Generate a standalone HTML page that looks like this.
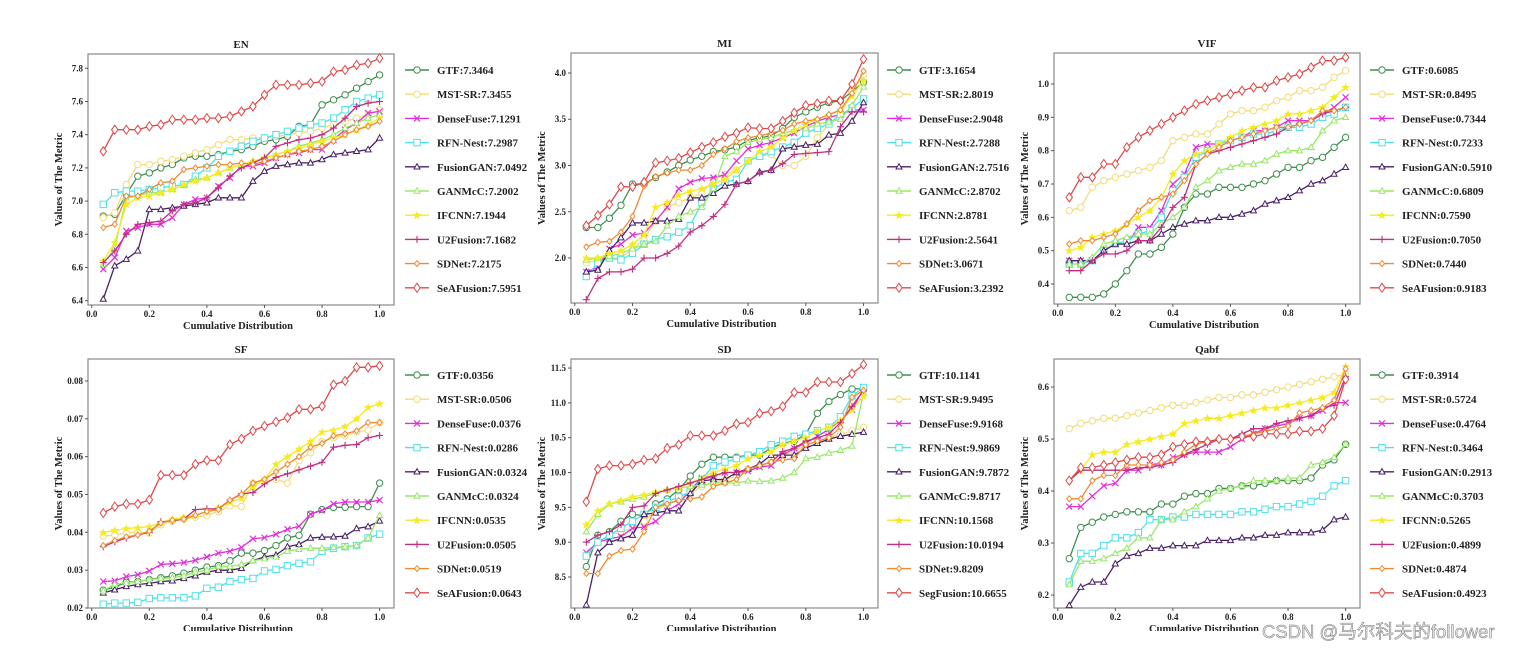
<!DOCTYPE html>
<html><head><meta charset="utf-8"><style>
html,body{margin:0;padding:0;background:#fff;width:1519px;height:649px;overflow:hidden}
svg{display:block}
text{font-family:"Liberation Serif",serif;font-weight:bold;fill:#222}
</style></head><body>
<svg id="fig" width="1519" height="649" viewBox="0 0 1519 649" xmlns="http://www.w3.org/2000/svg"></svg>
<script>
const xValues=[0.04,0.08,0.12,0.16,0.2,0.24,0.28,0.32,0.36,0.4,0.44,0.48,0.52,0.56,0.6,0.64,0.68,0.72,0.76,0.8,0.84,0.88,0.92,0.96,1.0];
const xTicks=[0,0.2,0.4,0.6,0.8,1.0];
const methods=["GTF","MST-SR","DenseFuse","RFN-Nest","FusionGAN","GANMcC","IFCNN","U2Fusion","SDNet","SeAFusion"];
const panelTitles=["EN","MI","VIF","SF","SD","Qabf"];

const enTicks=[6.4,6.6,6.8,7.0,7.2,7.4,7.6,7.8];
const enLegend=["GTF:7.3464","MST-SR:7.3455","DenseFuse:7.1291","RFN-Nest:7.2987","FusionGAN:7.0492","GANMcC:7.2002","IFCNN:7.1944","U2Fusion:7.1682","SDNet:7.2175","SeAFusion:7.5951"];
const enGTF=[6.91,6.92,7.04,7.15,7.17,7.20,7.22,7.26,7.27,7.27,7.28,7.30,7.31,7.33,7.36,7.37,7.39,7.45,7.46,7.58,7.61,7.64,7.68,7.72,7.76];
const enMST=[6.90,6.93,7.10,7.22,7.22,7.24,7.25,7.27,7.29,7.31,7.34,7.37,7.37,7.38,7.38,7.39,7.40,7.41,7.42,7.44,7.46,7.48,7.50,7.52,7.55];
const enDense=[6.59,6.66,6.82,6.84,6.86,6.86,6.90,6.98,7.01,7.02,7.09,7.14,7.21,7.21,7.23,7.26,7.28,7.29,7.31,7.31,7.37,7.43,7.47,7.53,7.54];
const enRFN=[6.98,7.05,7.06,7.06,7.07,7.08,7.09,7.10,7.15,7.20,7.27,7.30,7.33,7.36,7.38,7.40,7.42,7.44,7.46,7.47,7.50,7.55,7.60,7.62,7.64];
const enFGAN=[6.41,6.61,6.65,6.70,6.95,6.95,6.96,6.97,6.98,6.99,7.02,7.02,7.02,7.12,7.18,7.21,7.22,7.23,7.23,7.25,7.28,7.29,7.30,7.31,7.38];
const enGANMcC=[6.62,6.72,7.02,7.03,7.05,7.05,7.07,7.10,7.13,7.14,7.17,7.20,7.22,7.24,7.26,7.28,7.30,7.33,7.35,7.37,7.40,7.44,7.47,7.50,7.52];
const enIFCNN=[6.64,6.75,6.98,7.02,7.03,7.05,7.07,7.10,7.12,7.14,7.17,7.20,7.22,7.24,7.26,7.28,7.30,7.32,7.34,7.36,7.38,7.40,7.43,7.46,7.50];
const enU2=[6.63,6.70,6.80,6.86,6.87,6.88,6.94,6.98,6.99,7.02,7.08,7.15,7.20,7.23,7.26,7.33,7.35,7.37,7.38,7.40,7.44,7.50,7.57,7.59,7.60];
const enSD=[6.84,6.86,7.03,7.03,7.07,7.11,7.12,7.19,7.20,7.21,7.22,7.22,7.23,7.22,7.24,7.26,7.28,7.30,7.31,7.33,7.36,7.40,7.43,7.45,7.48];
const enSeA=[7.30,7.43,7.43,7.43,7.45,7.46,7.49,7.49,7.49,7.50,7.50,7.51,7.54,7.57,7.64,7.70,7.70,7.70,7.71,7.72,7.78,7.79,7.82,7.83,7.86];

const miTicks=[2.0,2.5,3.0,3.5,4.0];
const miLegend=["GTF:3.1654","MST-SR:2.8019","DenseFuse:2.9048","RFN-Nest:2.7288","FusionGAN:2.7516","GANMcC:2.8702","IFCNN:2.8781","U2Fusion:2.5641","SDNet:3.0671","SeAFusion:3.2392"];
const miGTF=[2.33,2.33,2.43,2.57,2.80,2.80,2.87,2.93,3.00,3.06,3.10,3.15,3.17,3.20,3.27,3.30,3.32,3.40,3.52,3.58,3.63,3.68,3.70,3.80,3.90];
const miMST=[1.95,1.98,2.00,2.00,2.10,2.20,2.40,2.55,2.60,2.65,2.70,2.85,2.90,2.95,3.05,3.10,3.12,3.00,3.00,3.10,3.30,3.45,3.55,3.80,3.98];
const miDense=[1.85,1.90,2.10,2.15,2.25,2.27,2.40,2.55,2.75,2.82,2.86,2.87,2.90,3.05,3.18,3.22,3.25,3.30,3.35,3.42,3.48,3.52,3.55,3.60,3.60];
const miRFN=[1.80,1.95,2.00,1.98,2.05,2.15,2.20,2.23,2.28,2.35,2.60,2.75,2.82,2.85,3.05,3.10,3.15,3.20,3.25,3.35,3.40,3.45,3.55,3.62,3.72];
const miFGAN=[1.85,1.87,2.08,2.22,2.38,2.38,2.40,2.40,2.42,2.65,2.65,2.70,2.78,2.80,2.83,2.93,2.95,3.18,3.20,3.22,3.23,3.33,3.35,3.48,3.68];
const miGANMcC=[1.98,2.00,2.02,2.05,2.10,2.15,2.18,2.35,2.45,2.50,2.55,2.75,3.10,3.15,3.25,3.28,3.30,3.35,3.38,3.40,3.45,3.47,3.50,3.65,3.85];
const miIFCNN=[2.00,2.00,2.05,2.08,2.15,2.25,2.55,2.60,2.68,2.72,2.75,2.80,2.85,2.95,3.05,3.15,3.20,3.30,3.38,3.45,3.50,3.55,3.60,3.75,3.92];
const miU2=[1.55,1.78,1.85,1.85,1.88,2.00,2.00,2.05,2.13,2.28,2.35,2.45,2.58,2.80,2.83,2.92,2.95,3.02,3.12,3.13,3.14,3.15,3.42,3.58,3.58];
const miSD=[2.12,2.17,2.18,2.28,2.45,2.78,2.88,2.92,2.95,2.95,3.00,3.12,3.18,3.26,3.30,3.32,3.35,3.38,3.45,3.48,3.50,3.55,3.60,3.78,4.02];
const miSeA=[2.35,2.46,2.58,2.77,2.77,2.82,3.03,3.05,3.08,3.14,3.20,3.25,3.31,3.35,3.41,3.40,3.40,3.48,3.57,3.65,3.67,3.70,3.70,3.88,4.15];

const vifTicks=[0.4,0.5,0.6,0.7,0.8,0.9,1.0];
const vifLegend=["GTF:0.6085","MST-SR:0.8495","DenseFuse:0.7344","RFN-Nest:0.7233","FusionGAN:0.5910","GANMcC:0.6809","IFCNN:0.7590","U2Fusion:0.7050","SDNet:0.7440","SeAFusion:0.9183"];
const vifGTF=[0.36,0.36,0.36,0.37,0.40,0.44,0.49,0.49,0.51,0.55,0.63,0.67,0.67,0.69,0.69,0.69,0.70,0.71,0.73,0.75,0.75,0.77,0.78,0.81,0.84];
const vifMST=[0.62,0.63,0.69,0.71,0.72,0.73,0.74,0.75,0.77,0.83,0.84,0.85,0.85,0.88,0.91,0.92,0.92,0.93,0.95,0.96,0.98,0.98,0.99,1.02,1.04];
const vifDense=[0.47,0.47,0.47,0.50,0.52,0.52,0.57,0.57,0.62,0.70,0.73,0.81,0.82,0.82,0.83,0.84,0.86,0.86,0.87,0.89,0.89,0.89,0.91,0.93,0.96];
const vifRFN=[0.46,0.46,0.47,0.50,0.52,0.53,0.55,0.56,0.60,0.68,0.72,0.78,0.80,0.82,0.83,0.84,0.85,0.85,0.86,0.87,0.87,0.88,0.90,0.91,0.93];
const vifFGAN=[0.47,0.47,0.47,0.50,0.52,0.52,0.53,0.53,0.55,0.57,0.58,0.59,0.59,0.60,0.60,0.61,0.62,0.64,0.65,0.66,0.68,0.70,0.71,0.73,0.75];
const vifGANMcC=[0.46,0.46,0.48,0.52,0.53,0.54,0.55,0.55,0.58,0.60,0.63,0.69,0.71,0.74,0.75,0.76,0.76,0.77,0.79,0.80,0.80,0.81,0.86,0.89,0.90];
const vifIFCNN=[0.50,0.51,0.54,0.55,0.56,0.58,0.60,0.62,0.66,0.73,0.77,0.79,0.80,0.82,0.84,0.86,0.87,0.88,0.89,0.91,0.91,0.92,0.93,0.96,0.99];
const vifU2=[0.44,0.44,0.47,0.49,0.49,0.50,0.53,0.53,0.57,0.63,0.66,0.76,0.79,0.80,0.81,0.82,0.83,0.84,0.85,0.87,0.88,0.89,0.91,0.92,0.93];
const vifSD=[0.52,0.53,0.53,0.54,0.55,0.58,0.62,0.65,0.66,0.67,0.71,0.76,0.79,0.81,0.83,0.84,0.85,0.86,0.87,0.87,0.88,0.89,0.92,0.92,0.93];
const vifSeA=[0.66,0.72,0.72,0.76,0.76,0.81,0.84,0.86,0.88,0.90,0.92,0.94,0.95,0.96,0.97,0.98,0.99,0.99,1.01,1.02,1.03,1.05,1.07,1.07,1.08];

const sfTicks=[0.02,0.03,0.04,0.05,0.06,0.07,0.08];
const sfLegend=["GTF:0.0356","MST-SR:0.0506","DenseFuse:0.0376","RFN-Nest:0.0286","FusionGAN:0.0324","GANMcC:0.0324","IFCNN:0.0535","U2Fusion:0.0505","SDNet:0.0519","SeAFusion:0.0643"];
const sfGTF=[.0247,.0255,.0268,.0270,.0275,.0280,.0285,.0292,.0300,.0308,.0312,.0325,.0345,.0345,.0352,.0365,.0385,.0392,.0448,.0460,.0466,.0466,.0468,.0468,.0530];
const sfMST=[.0390,.0393,.0398,.0400,.0398,.0420,.0430,.0435,.0440,.0445,.0455,.0470,.0468,.0530,.0535,.0540,.0530,.0590,.0610,.0640,.0650,.0655,.0665,.0670,.0690];
const sfDense=[.0270,.0272,.0283,.0288,.0298,.0315,.0317,.0320,.0326,.0335,.0345,.0350,.0360,.0383,.0386,.0395,.0408,.0416,.0448,.0458,.0475,.0480,.0480,.0480,.0485];
const sfRFN=[.0210,.0213,.0213,.0215,.0225,.0227,.0227,.0227,.0232,.0252,.0255,.0270,.0275,.0278,.0298,.0302,.0312,.0318,.0322,.0350,.0358,.0362,.0365,.0385,.0395];
const sfFGAN=[.0240,.0248,.0257,.0262,.0265,.0270,.0272,.0278,.0285,.0295,.0300,.0300,.0305,.0325,.0335,.0340,.0362,.0368,.0385,.0387,.0388,.0390,.0410,.0415,.0430];
const sfGANMcC=[.0245,.0263,.0266,.0270,.0275,.0278,.0280,.0285,.0295,.0300,.0310,.0310,.0315,.0325,.0330,.0335,.0350,.0355,.0358,.0358,.0360,.0362,.0365,.0385,.0445];
const sfIFCNN=[.0400,.0405,.0410,.0412,.0415,.0425,.0435,.0440,.0445,.0455,.0465,.0480,.0490,.0520,.0540,.0580,.0600,.0620,.0640,.0665,.0670,.0680,.0700,.0730,.0740];
const sfU2=[.0362,.0375,.0385,.0393,.0400,.0428,.0430,.0435,.0460,.0462,.0462,.0485,.0502,.0505,.0528,.0545,.0555,.0565,.0575,.0585,.0625,.0630,.0632,.0650,.0656];
const sfSD=[.0365,.0378,.0388,.0393,.0403,.0425,.0432,.0435,.0445,.0455,.0460,.0485,.0500,.0530,.0540,.0560,.0580,.0600,.0625,.0635,.0655,.0660,.0668,.0690,.0690];
const sfSeA=[.0451,.0468,.0475,.0475,.0486,.0551,.0551,.0551,.0580,.0590,.0590,.0632,.0647,.0668,.0681,.0692,.0703,.0725,.0725,.0733,.0790,.0800,.0836,.0836,.0840];

const sdTicks=[8.5,9.0,9.5,10.0,10.5,11.0,11.5];
const sdLegend=["GTF:10.1141","MST-SR:9.9495","DenseFuse:9.9168","RFN-Nest:9.9869","FusionGAN:9.7872","GANMcC:9.8717","IFCNN:10.1568","U2Fusion:10.0194","SDNet:9.8209","SegFusion:10.6655"];
const sdGTF=[8.65,9.10,9.15,9.30,9.40,9.38,9.55,9.62,9.75,9.95,10.12,10.22,10.22,10.22,10.25,10.25,10.35,10.42,10.45,10.55,10.85,11.02,11.12,11.20,11.20];
const sdMST=[8.80,9.00,9.10,9.15,9.20,9.30,9.45,9.55,9.62,9.70,9.80,9.85,9.90,9.95,10.05,10.10,10.15,10.25,10.30,10.40,10.45,10.50,10.55,10.60,10.65];
const sdDense=[8.85,9.00,9.05,9.08,9.20,9.22,9.30,9.45,9.55,9.75,9.92,9.95,10.00,10.00,10.02,10.08,10.10,10.25,10.35,10.42,10.52,10.62,10.75,10.90,11.20];
const sdRFN=[8.80,9.00,9.10,9.20,9.30,9.40,9.50,9.58,9.65,9.72,9.90,10.10,10.15,10.20,10.25,10.30,10.40,10.45,10.52,10.55,10.60,10.65,10.80,11.10,11.22];
const sdFGAN=[8.10,8.85,9.00,9.05,9.10,9.40,9.42,9.45,9.45,9.70,9.88,9.90,9.90,10.00,10.05,10.12,10.25,10.25,10.25,10.35,10.42,10.48,10.52,10.55,10.58];
const sdGANMcC=[9.15,9.40,9.55,9.58,9.62,9.65,9.70,9.75,9.78,9.80,9.82,9.85,9.85,9.85,9.88,9.87,9.88,9.92,10.00,10.20,10.22,10.28,10.32,10.38,11.15];
const sdIFCNN=[9.25,9.45,9.55,9.60,9.65,9.68,9.72,9.75,9.78,9.85,9.92,10.00,10.05,10.10,10.20,10.25,10.30,10.40,10.45,10.50,10.60,10.65,10.75,10.90,11.10];
const sdU2=[9.00,9.10,9.15,9.25,9.50,9.52,9.70,9.75,9.80,9.85,9.90,9.95,10.00,10.00,10.05,10.10,10.15,10.30,10.35,10.45,10.50,10.55,10.72,10.95,11.18];
const sdSD=[8.55,8.55,8.80,8.88,8.90,9.15,9.50,9.55,9.60,9.62,9.65,9.80,9.85,9.90,10.05,10.10,10.15,10.18,10.20,10.40,10.45,10.50,10.65,11.08,11.18];
const sdSeA=[9.58,10.05,10.10,10.10,10.12,10.18,10.20,10.35,10.40,10.53,10.53,10.53,10.60,10.70,10.72,10.85,10.88,10.95,11.15,11.15,11.30,11.30,11.30,11.42,11.55];

const qTicks=[0.2,0.3,0.4,0.5,0.6];
const qLegend=["GTF:0.3914","MST-SR:0.5724","DenseFuse:0.4764","RFN-Nest:0.3464","FusionGAN:0.2913","GANMcC:0.3703","IFCNN:0.5265","U2Fusion:0.4899","SDNet:0.4874","SeAFusion:0.4923"];
const qGTF=[0.27,0.33,0.34,0.35,0.355,0.36,0.36,0.36,0.375,0.375,0.39,0.395,0.395,0.405,0.405,0.41,0.41,0.415,0.42,0.42,0.42,0.425,0.45,0.46,0.49];
const qMST=[0.52,0.53,0.535,0.54,0.54,0.545,0.55,0.555,0.56,0.565,0.565,0.57,0.575,0.58,0.58,0.585,0.585,0.59,0.595,0.60,0.605,0.61,0.615,0.62,0.625];
const qDense=[0.37,0.37,0.39,0.41,0.415,0.44,0.44,0.45,0.45,0.465,0.47,0.475,0.475,0.475,0.485,0.50,0.51,0.52,0.525,0.53,0.54,0.545,0.555,0.57,0.57];
const qRFN=[0.225,0.28,0.28,0.295,0.31,0.31,0.32,0.345,0.345,0.35,0.35,0.355,0.355,0.355,0.355,0.36,0.36,0.365,0.37,0.37,0.375,0.38,0.39,0.41,0.42];
const qFGAN=[0.18,0.215,0.225,0.225,0.26,0.275,0.28,0.29,0.29,0.295,0.295,0.295,0.305,0.305,0.305,0.31,0.31,0.315,0.315,0.32,0.32,0.32,0.325,0.345,0.35];
const qGANMcC=[0.22,0.265,0.265,0.27,0.28,0.29,0.31,0.31,0.345,0.345,0.36,0.37,0.385,0.40,0.405,0.41,0.42,0.42,0.42,0.425,0.425,0.45,0.455,0.465,0.49];
const qIFCNN=[0.42,0.44,0.47,0.475,0.475,0.49,0.495,0.50,0.505,0.51,0.53,0.535,0.54,0.54,0.545,0.55,0.555,0.56,0.56,0.565,0.57,0.575,0.58,0.59,0.64];
const qU2=[0.42,0.44,0.44,0.44,0.44,0.44,0.445,0.445,0.45,0.455,0.47,0.48,0.49,0.50,0.50,0.51,0.52,0.52,0.53,0.535,0.54,0.545,0.56,0.565,0.62];
const qSD=[0.385,0.385,0.42,0.43,0.43,0.45,0.45,0.45,0.455,0.46,0.475,0.49,0.495,0.50,0.50,0.505,0.51,0.515,0.52,0.525,0.55,0.555,0.56,0.575,0.635];
const qSeA=[0.42,0.445,0.445,0.45,0.455,0.46,0.465,0.465,0.47,0.485,0.49,0.495,0.495,0.50,0.50,0.505,0.505,0.51,0.51,0.51,0.515,0.515,0.52,0.545,0.615];

const colors=["#3f8f4f","#f2dc78","#e030d8","#50e0e8","#4a2068","#98e868","#f4ec20","#c03080","#f08a30","#e04848"];
const markers=["circle","circle","x","square","tri","tri","star","plus","diamondS","diamond"];

const panels=[
 {t:0,L:88,R:394,T:54,B:305,y0:6.374,y1:7.886,ticks:enTicks,dec:1,leg:enLegend,s:[enGTF,enMST,enDense,enRFN,enFGAN,enGANMcC,enIFCNN,enU2,enSD,enSeA],lx:405,ly0:70},
 {t:1,L:571,R:878,T:53,B:303,y0:1.514,y1:4.216,ticks:miTicks,dec:1,leg:miLegend,s:[miGTF,miMST,miDense,miRFN,miFGAN,miGANMcC,miIFCNN,miU2,miSD,miSeA],lx:887,ly0:70},
 {t:2,L:1054,R:1360,T:53,B:304,y0:0.34,y1:1.093,ticks:vifTicks,dec:1,leg:vifLegend,s:[vifGTF,vifMST,vifDense,vifRFN,vifFGAN,vifGANMcC,vifIFCNN,vifU2,vifSD,vifSeA],lx:1370,ly0:70},
 {t:3,L:88,R:394,T:359,B:608,y0:0.02,y1:0.0858,ticks:sfTicks,dec:2,leg:sfLegend,s:[sfGTF,sfMST,sfDense,sfRFN,sfFGAN,sfGANMcC,sfIFCNN,sfU2,sfSD,sfSeA],lx:405,ly0:375},
 {t:4,L:571,R:878,T:359,B:608,y0:8.055,y1:11.63,ticks:sdTicks,dec:1,leg:sdLegend,s:[sdGTF,sdMST,sdDense,sdRFN,sdFGAN,sdGANMcC,sdIFCNN,sdU2,sdSD,sdSeA],lx:887,ly0:375},
 {t:5,L:1054,R:1360,T:359,B:608,y0:0.175,y1:0.654,ticks:qTicks,dec:1,leg:qLegend,s:[qGTF,qMST,qDense,qRFN,qFGAN,qGANMcC,qIFCNN,qU2,qSD,qSeA],lx:1370,ly0:375}
];
const NS="http://www.w3.org/2000/svg";
const svg=document.getElementById('fig');
function mk(tag,attrs,parent){const e=document.createElementNS(NS,tag);for(const k in attrs)e.setAttribute(k,attrs[k]);(parent||svg).appendChild(e);return e;}
function marker(g,type,x,y,c){
 const r=3.2;let e;
 if(type==="circle")e=mk('circle',{cx:x,cy:y,r:r,fill:'#fff',stroke:c,'stroke-width':1},g);
 else if(type==="square")e=mk('rect',{x:x-r,y:y-r,width:2*r,height:2*r,fill:'#fff',stroke:c,'stroke-width':1},g);
 else if(type==="diamond")e=mk('polygon',{points:`${x},${y-4.5} ${x+3.2},${y} ${x},${y+4.5} ${x-3.2},${y}`,fill:'#fff',stroke:c,'stroke-width':1},g);
 else if(type==="diamondS")e=mk('polygon',{points:`${x},${y-3} ${x+2.5},${y} ${x},${y+3} ${x-2.5},${y}`,fill:'#fff',stroke:c,'stroke-width':1},g);
 else if(type==="tri")e=mk('polygon',{points:`${x},${y-3.2} ${x+3},${y+2.2} ${x-3},${y+2.2}`,fill:'#fff',stroke:c,'stroke-width':1},g);
 else if(type==="x")e=mk('path',{d:`M${x-3} ${y-3}L${x+3} ${y+3}M${x-3} ${y+3}L${x+3} ${y-3}`,stroke:c,'stroke-width':1.2},g);
 else if(type==="plus")e=mk('path',{d:`M${x-3.5} ${y}L${x+3.5} ${y}M${x} ${y-3.5}L${x} ${y+3.5}`,stroke:c,'stroke-width':1.1},g);
 else e=mk('polygon',{points:`${x},${y-3.5} ${x+1},${y-1} ${x+3.5},${y-1} ${x+1.5},${y+0.8} ${x+2.3},${y+3.3} ${x},${y+1.8} ${x-2.3},${y+3.3} ${x-1.5},${y+0.8} ${x-3.5},${y-1} ${x-1},${y-1}`,fill:c,stroke:c,'stroke-width':0.6},g);
 
 
}
panels.forEach(p=>{
 const title=panelTitles[p.t];
 const g=mk('g',{});
 
 
 const xs=v=>p.L+(v+0.013)/(1.05+0.013)*(p.R-p.L);
 const ys=v=>p.B-(v-p.y0)/(p.y1-p.y0)*(p.B-p.T);
 const fr=mk('rect',{x:p.L,y:p.T,width:p.R-p.L,height:p.B-p.T,fill:'#fff',stroke:'#8a8a8a','stroke-width':1.2},g);
 
 
 const tt=mk('text',{x:(p.L+p.R)/2,y:p.T-6,'text-anchor':'middle','font-size':11},g);tt.textContent=title;
 
 
 xTicks.forEach(v=>{const x=xs(v);mk('line',{x1:x,x2:x,y1:p.B,y2:p.B+3,stroke:'#555'},g);
  const t=mk('text',{x:x,y:p.B+12,'text-anchor':'middle','font-size':9},g);t.textContent=v.toFixed(1);
  
  });
 p.ticks.forEach(v=>{const y=ys(v);mk('line',{x1:p.L-3,x2:p.L,y1:y,y2:y,stroke:'#555'},g);
  const t=mk('text',{x:p.L-5,y:y+3,'text-anchor':'end','font-size':9},g);t.textContent=v.toFixed(p.dec);
  
  });
 const xl=mk('text',{x:(p.L+p.R)/2-3,y:p.B+24,'text-anchor':'middle','font-size':10.5},g);xl.textContent='Cumulative Distribution';
 
 
 const yl=mk('text',{x:0,y:0,'text-anchor':'middle','font-size':10.5,transform:`translate(${p.L-26},${(p.T+p.B)/2}) rotate(-90)`},g);yl.textContent='Values of  The Metric';
 
 
 p.s.forEach((vals,i)=>{
  const c=colors[i];
  const sg=mk('g',{},g);
  
  
  const d=vals.map((v,k)=>(k?'L':'M')+xs(xValues[k]).toFixed(1)+' '+ys(v).toFixed(1)).join('');
  mk('path',{d:d,fill:'none',stroke:c,'stroke-width':1.3},sg);
  vals.forEach((v,k)=>marker(sg,markers[i],xs(xValues[k]),ys(v),c));
 });
 const lg=mk('g',{},g);
 
 
 p.leg.forEach((lab,i)=>{
  const y=p.ly0+i*24.2;
  const eg=mk('g',{},lg);
  
  
  mk('line',{x1:p.lx,x2:p.lx+24,y1:y,y2:y,stroke:colors[i],'stroke-width':1.4},eg);
  marker(eg,markers[i],p.lx+12,y,colors[i]);
  const t=mk('text',{x:p.lx+32,y:y+4,'font-size':11},eg);t.textContent=lab;
 });
});
const cover=mk('rect',{x:0,y:631,width:1519,height:18,fill:'#fff'});


const wm=mk('text',{x:1262,y:638,'font-size':18.5,style:'font-family:"Liberation Sans","Noto Sans CJK SC",sans-serif;font-weight:normal;fill:#e8e8e8;stroke:#777;stroke-width:0.5'});
wm.textContent='CSDN @马尔科夫的follower';


</script>
</body></html>
